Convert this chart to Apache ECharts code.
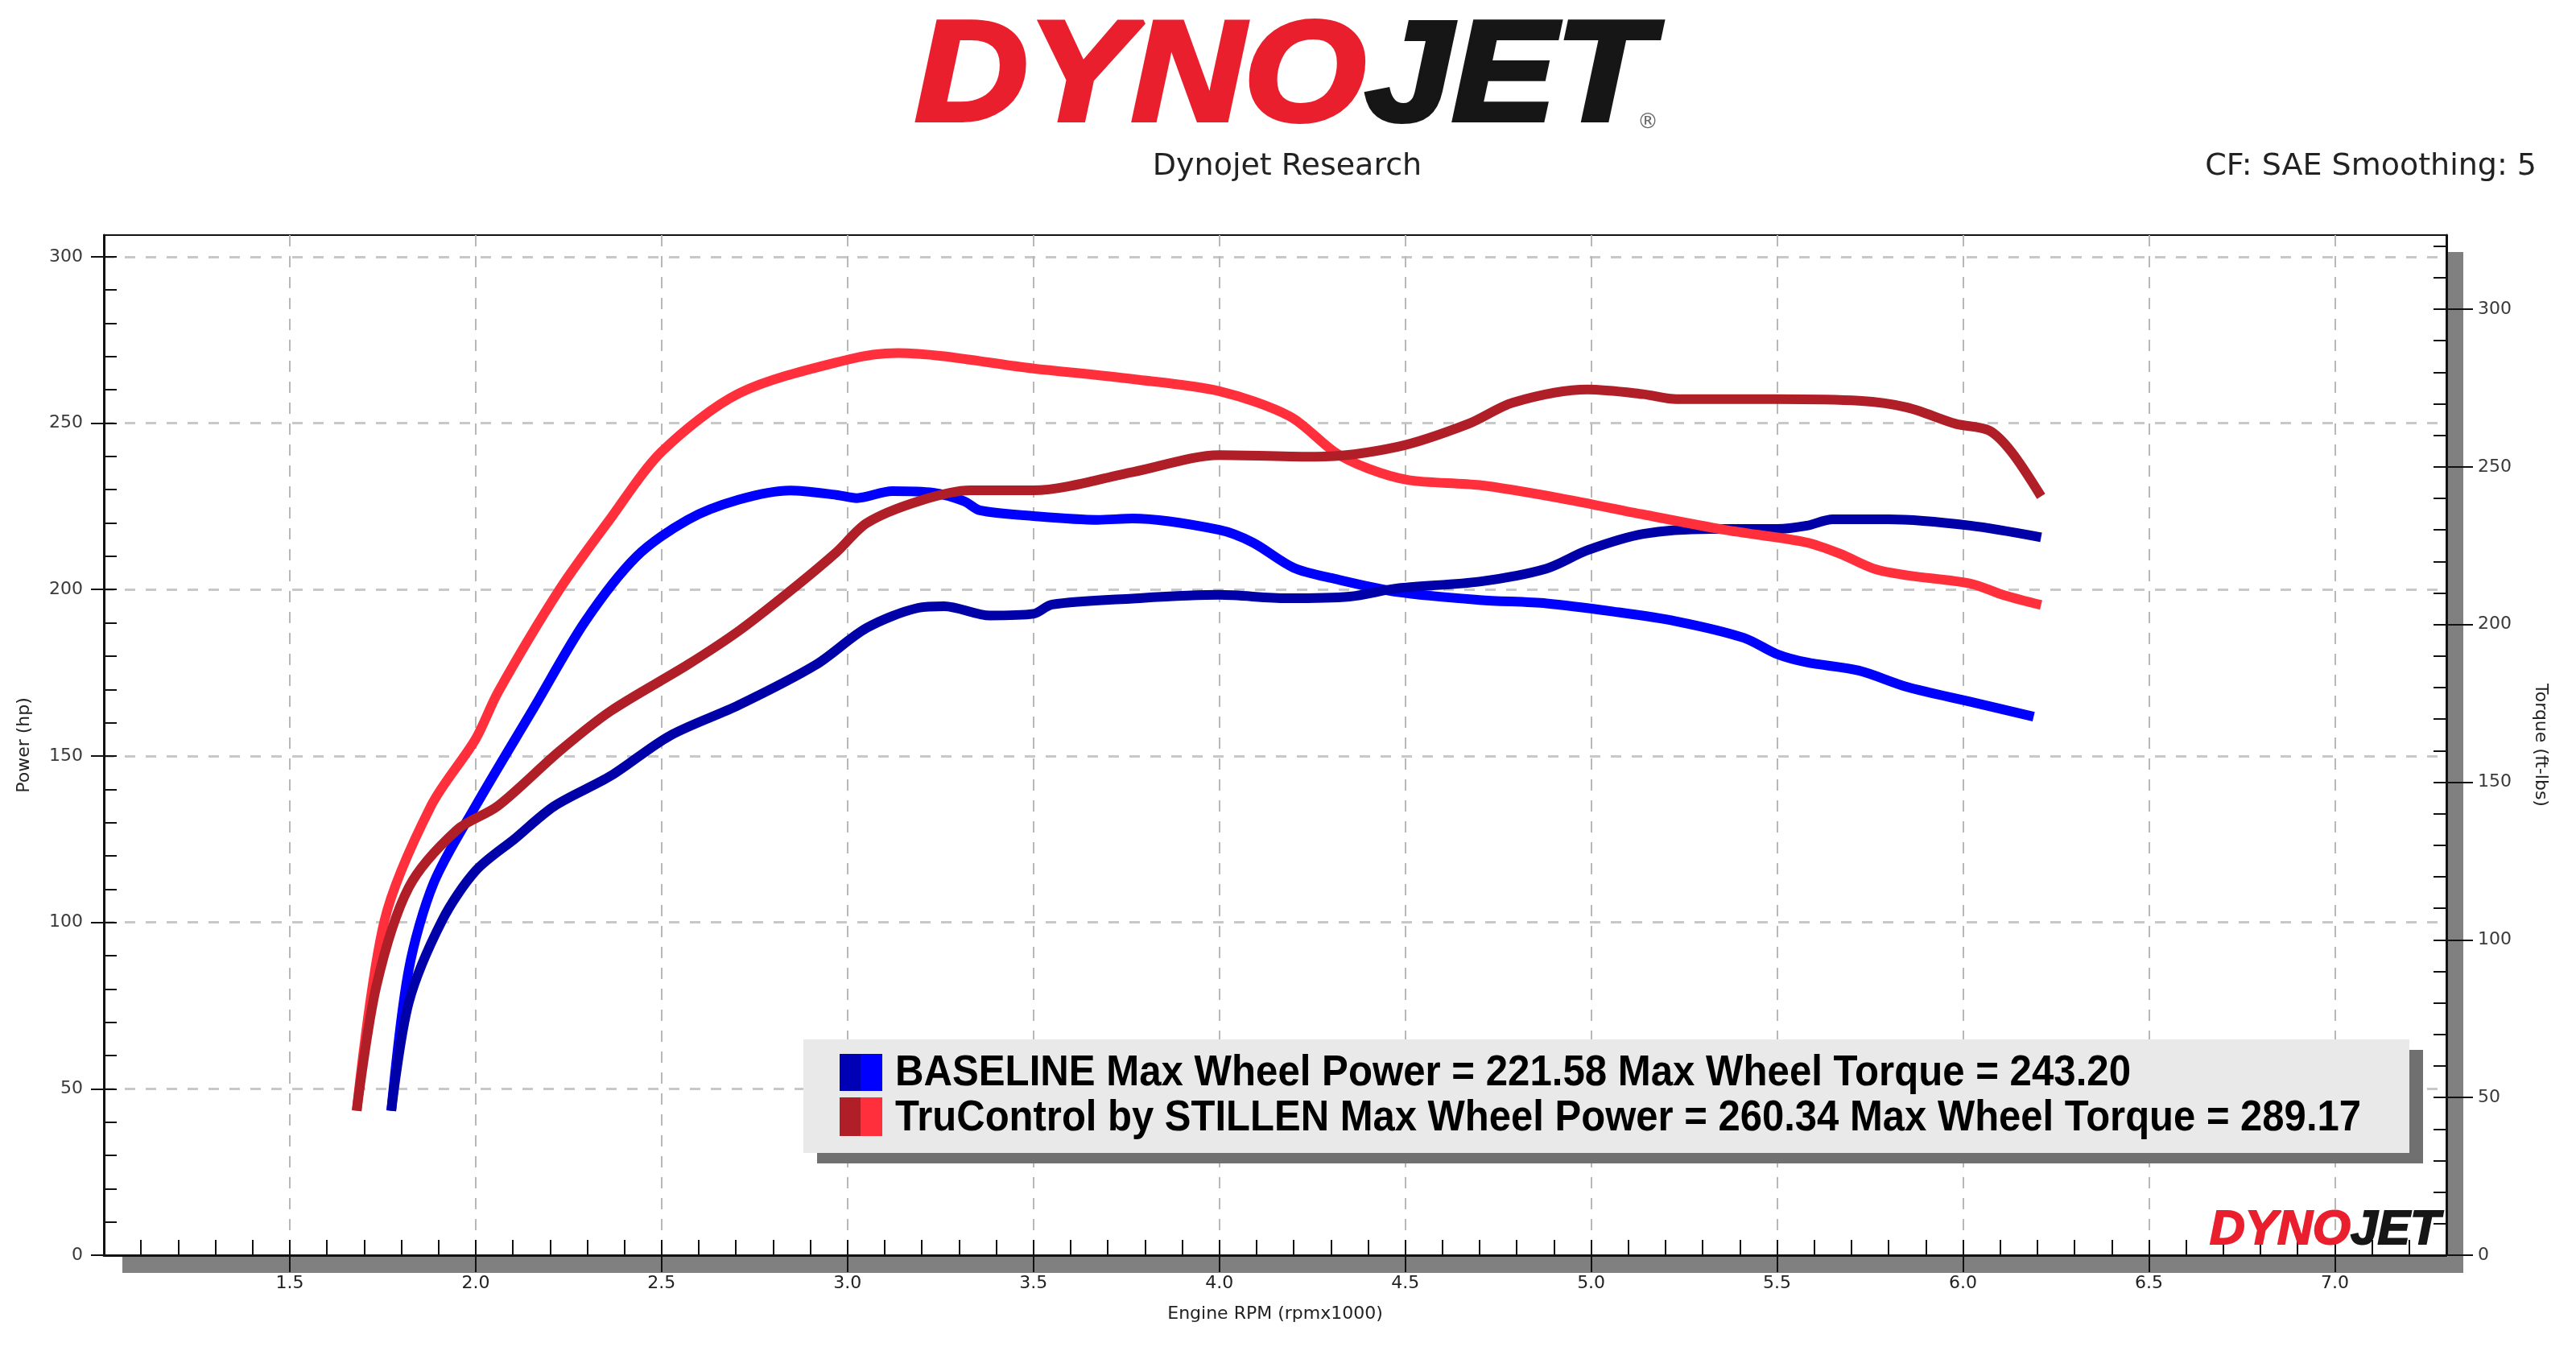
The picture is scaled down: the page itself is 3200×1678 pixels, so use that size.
<!DOCTYPE html>
<html>
<head>
<meta charset="utf-8">
<script src="https://cdn.jsdelivr.net/npm/echarts@6/dist/echarts.min.js"></script>
<style>
html, body { margin: 0; padding: 0; background: #fff; }
#dynoChart { width: 3200px; height: 1678px; }
</style>
</head>
<body>
<div id="dynoChart"></div>
<script>
// engine speed is rpm x1000, power in hp (left axis), torque in ft-lbs (right axis)
let baseHpRpm = [1.773, 1.82, 1.91, 2.0, 2.107, 2.211, 2.363, 2.521, 2.708, 2.915, 3.052, 3.19, 3.26, 3.383, 3.5, 3.55, 3.767, 4.0, 4.18, 4.35, 4.48, 4.70, 4.88, 4.99, 5.14, 5.32, 5.5, 5.58, 5.65, 5.80, 6.02, 6.21];
let baseHp = [43.4, 75.9, 100.6, 115.5, 125.3, 134.9, 144, 156, 165.3, 177.4, 188.5, 194.5, 195, 192.2, 192.7, 195.5, 197.3, 198.4, 197.4, 197.9, 200.4, 202.4, 206.3, 211.8, 216.7, 218.2, 218.2, 219.2, 221.1, 221.1, 219.2, 215.7];

let baseTqRpm = [1.773, 1.82, 1.887, 2.0, 2.156, 2.294, 2.432, 2.57, 2.708, 2.846, 2.97, 3.025, 3.12, 3.23, 3.314, 3.356, 3.5, 3.673, 3.767, 4.0, 4.09, 4.2, 4.31, 4.48, 4.70, 4.88, 5.06, 5.23, 5.41, 5.5, 5.58, 5.72, 5.85, 6.02, 6.19];
let baseTq = [45.8, 90.5, 118, 142.5, 173.5, 200.9, 221.5, 233.2, 239.6, 242.5, 241.1, 240.1, 242.3, 241.8, 239.1, 236.2, 234.4, 233.2, 233.6, 230, 226, 218, 214.5, 210.3, 207.8, 206.7, 204.1, 201, 195.8, 190.6, 188, 185.4, 180.2, 175.5, 170.8];

let truHpRpm = [1.68, 1.733, 1.82, 1.95, 2.059, 2.225, 2.363, 2.57, 2.708, 2.846, 2.97, 3.052, 3.19, 3.33, 3.5, 3.767, 4.0, 4.26, 4.48, 4.67, 4.79, 4.99, 5.14, 5.23, 5.5, 5.72, 5.85, 5.98, 6.07, 6.13, 6.21];
let truHp = [43.4, 80.9, 110.5, 127.8, 134.9, 151.4, 163.5, 177.4, 187.6, 199.6, 211.2, 220, 226.5, 229.8, 229.8, 235.3, 240.4, 239.9, 242.9, 249.8, 256.2, 260.1, 258.7, 257.2, 257.2, 256.7, 254.7, 249.8, 247.8, 241.4, 228];

let truTqRpm = [1.68, 1.755, 1.88, 2.0, 2.06, 2.225, 2.36, 2.5, 2.71, 3.0, 3.135, 3.5, 3.77, 4.0, 4.19, 4.31, 4.40, 4.51, 4.70, 4.92, 5.14, 5.36, 5.58, 5.67, 5.76, 5.85, 6.02, 6.11, 6.21];
let truTq = [45.8, 106.2, 142.5, 163.7, 178.5, 211, 233.2, 254.8, 273.4, 284, 286.1, 281.2, 277.8, 274, 266, 254.7, 249.5, 245.8, 244.2, 240, 234.9, 230, 226, 222.4, 217.7, 215.6, 213, 209.3, 206.2];

let runNames = ["BASELINE", "TruControl by STILLEN"];
let maxPower = [221.58, 260.34];
let maxTorque = [243.20, 289.17];

let rpmTicks = [1.5, 2.0, 2.5, 3.0, 3.5, 4.0, 4.5, 5.0, 5.5, 6.0, 6.5, 7.0];
let hpTicks = [0, 50, 100, 150, 200, 250, 300];
let tqTicks = [0, 50, 100, 150, 200, 250, 300];

const LABEL_FONT = '"DejaVu Sans", sans-serif';
const INK = "#111";

function pairs(xs, ys) {
  return xs.map((x, i) => [x, ys[i]]);
}

function textScale(text, font, width) {
  const ctx = document.createElement("canvas").getContext("2d");
  ctx.font = font;
  return width / ctx.measureText(text).width;
}

const LOGO_FONT = 'italic bold 176px "Liberation Sans"';
const SMALL_LOGO_FONT = 'italic bold 60px "Liberation Sans"';
const LEGEND_FONT = 'bold 54px "Liberation Sans"';

let legendLines = runNames.map(
  (n, i) => n + " Max Wheel Power = " + maxPower[i].toFixed(2) + " Max Wheel Torque = " + maxTorque[i].toFixed(2)
);
let legendWidths = [1535, 1821];

function logoText(x, y, font, scale, stroke) {
  return {
    type: "text",
    x: x,
    y: y,
    scaleX: scale,
    z: 20,
    style: {
      text: "{d|DYNO}{j|JET}",
      font: font,
      verticalAlign: "middle",
      rich: {
        d: { font: font, fill: "#ea1f2d", stroke: "#ea1f2d", lineWidth: stroke },
        j: { font: font, fill: "#161616", stroke: "#161616", lineWidth: stroke },
      },
    },
  };
}

let graphics = [
  // grey drop shadow of the plot frame
  { type: "rect", z: -1, shape: { x: 3041, y: 313, width: 19, height: 1268 }, style: { fill: "#808080" } },
  { type: "rect", z: -1, shape: { x: 152, y: 1561, width: 2908, height: 20 }, style: { fill: "#808080" } },
  // header
  logoText(1137, 100, LOGO_FONT, textScale("DYNOJET", LOGO_FONT, 914), 6),
  { type: "text", x: 2047, y: 152, z: 20, style: { text: "®", font: '26px "DejaVu Sans"', fill: "#666", align: "center", verticalAlign: "middle" } },
  { type: "text", x: 1599, y: 207, z: 20, style: { text: "Dynojet Research", font: '38px "DejaVu Sans"', fill: "#222", align: "center", verticalAlign: "middle" } },
  { type: "text", x: 3151, y: 207, z: 20, style: { text: "CF: SAE Smoothing: 5", font: '38px "DejaVu Sans"', fill: "#222", align: "right", verticalAlign: "middle" } },
  // small logo in the plot corner
  logoText(2745, 1528, SMALL_LOGO_FONT, textScale("DYNOJET", SMALL_LOGO_FONT, 286), 2),
  // legend box
  { type: "rect", z: 30, shape: { x: 1015, y: 1304, width: 1995, height: 141 }, style: { fill: "#707070" } },
  { type: "rect", z: 31, shape: { x: 998, y: 1291, width: 1995, height: 141 }, style: { fill: "#e9e9e9" } },
  { type: "rect", z: 32, shape: { x: 1043, y: 1309, width: 26, height: 46 }, style: { fill: "#0000b4" } },
  { type: "rect", z: 32, shape: { x: 1069, y: 1309, width: 27, height: 46 }, style: { fill: "#0000ff" } },
  { type: "rect", z: 32, shape: { x: 1043, y: 1363, width: 26, height: 48 }, style: { fill: "#b01e27" } },
  { type: "rect", z: 32, shape: { x: 1069, y: 1363, width: 27, height: 48 }, style: { fill: "#ff303b" } },
];
legendLines.forEach((line, i) => {
  graphics.push({
    type: "text",
    x: 1112,
    y: i === 0 ? 1333 : 1389,
    scaleX: textScale(line, LEGEND_FONT, legendWidths[i]),
    z: 33,
    style: { text: line, font: LEGEND_FONT, fill: "#000", verticalAlign: "middle" },
  });
});

function curve(name, xs, ys, yAxisIndex, color) {
  return {
    name: name,
    type: "line",
    xAxisIndex: 0,
    yAxisIndex: yAxisIndex,
    data: pairs(xs, ys),
    showSymbol: false,
    smooth: 0.3,
    lineStyle: { width: 12, color: color },
  };
}

let option = {
  animation: false,
  backgroundColor: "#fff",
  grid: {
    left: 129,
    right: 161,
    top: 292,
    bottom: 119,
    show: true,
    backgroundColor: "#fff",
    borderColor: INK,
    borderWidth: 2,
  },
  xAxis: [
    {
      type: "value",
      position: "bottom",
      min: 1.0,
      max: 7.3,
      interval: 0.5,
      name: "Engine RPM (rpmx1000)",
      nameLocation: "middle",
      nameGap: 62,
      nameTextStyle: { fontFamily: LABEL_FONT, fontSize: 22, color: "#222" },
      axisLine: { show: true, onZero: false, lineStyle: { color: INK, width: 3 } },
      axisTick: { show: true, inside: false, length: 21, customValues: rpmTicks, lineStyle: { color: INK, width: 2 } },
      axisLabel: {
        margin: 24,
        customValues: rpmTicks,
        formatter: (v) => v.toFixed(1),
        fontFamily: LABEL_FONT,
        fontSize: 22,
        color: "#222",
      },
      splitLine: { show: true, lineStyle: { color: "#b8b8b8", width: 2, type: [14, 12] } },
    },
    {
      // short inside ticks every 100 rpm
      type: "value",
      position: "bottom",
      min: 1.0,
      max: 7.3,
      interval: 0.1,
      axisLine: { show: false },
      axisTick: { show: true, inside: true, length: 19, lineStyle: { color: INK, width: 2 } },
      axisLabel: { show: false },
      splitLine: { show: false },
    },
  ],
  yAxis: [
    {
      type: "value",
      position: "left",
      min: 0,
      max: 306.5,
      interval: 50,
      name: "Power (hp)",
      nameLocation: "middle",
      nameGap: 88,
      nameTextStyle: { fontFamily: LABEL_FONT, fontSize: 22, color: "#222" },
      axisLine: { show: true, onZero: false, lineStyle: { color: INK, width: 3 } },
      axisTick: { show: true, inside: false, length: 16, customValues: hpTicks, lineStyle: { color: INK, width: 2 } },
      axisLabel: { margin: 26, customValues: hpTicks, fontFamily: LABEL_FONT, fontSize: 22, color: "#3a3a3a" },
      splitLine: { show: true, lineStyle: { color: "#c8c8c8", width: 3, type: [13, 13] } },
    },
    {
      type: "value",
      position: "right",
      min: 0,
      max: 323.5,
      interval: 50,
      name: "Torque (ft-lbs)",
      nameLocation: "middle",
      nameGap: 106,
      nameRotate: -90,
      nameTextStyle: { fontFamily: LABEL_FONT, fontSize: 22, color: "#222" },
      axisLine: { show: true, onZero: false, lineStyle: { color: INK, width: 3 } },
      axisTick: { show: true, inside: false, length: 33, customValues: tqTicks, lineStyle: { color: INK, width: 2 } },
      axisLabel: { margin: 39, customValues: tqTicks, fontFamily: LABEL_FONT, fontSize: 22, color: "#3a3a3a" },
      splitLine: { show: false },
    },
    {
      // inside ticks every 10 hp
      type: "value",
      position: "left",
      min: 0,
      max: 306.5,
      interval: 10,
      axisLine: { show: false },
      axisTick: { show: true, inside: true, length: 16, lineStyle: { color: INK, width: 2 } },
      axisLabel: { show: false },
      splitLine: { show: false },
    },
    {
      // inside ticks every 10 ft-lbs
      type: "value",
      position: "right",
      min: 0,
      max: 323.5,
      interval: 10,
      axisLine: { show: false },
      axisTick: { show: true, inside: true, length: 16, lineStyle: { color: INK, width: 2 } },
      axisLabel: { show: false },
      splitLine: { show: false },
    },
  ],
  graphic: graphics,
  series: [
    curve("BASELINE Torque", baseTqRpm, baseTq, 1, "#0000ff"),
    curve("BASELINE Power", baseHpRpm, baseHp, 0, "#0000a8"),
    curve("TruControl Torque", truTqRpm, truTq, 1, "#ff303b"),
    curve("TruControl Power", truHpRpm, truHp, 0, "#b01e27"),
  ],
};

let myChart = echarts.init(document.getElementById("dynoChart"));
myChart.setOption(option);
</script>
</body>
</html>
